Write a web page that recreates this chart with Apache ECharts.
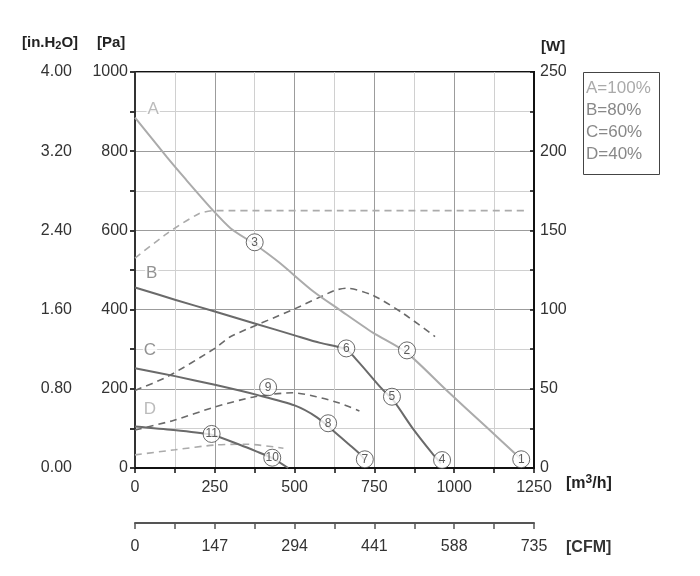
<!DOCTYPE html>
<html>
<head>
<meta charset="utf-8">
<script src="https://cdn.jsdelivr.net/npm/echarts@6/dist/echarts.min.js"></script>
<style>
html,body{margin:0;padding:0;background:#fff;}
#chart{width:700px;height:576px;}
</style>
</head>
<body>
<div id="chart"></div>
<script>
/* 压力曲线 [m3/h, Pa] */
const curveA = [[0,885],[100,785],[160,728],[245,650],[300,605],[375,565],[450,520],[560,445],[640,400],[745,342],[850,292],[975,197],[1100,104],[1210,22]];
const curveB = [[0,456],[125,425],[250,395],[375,365],[500,335],[580,316],[660,300],[700,268],[770,203],[810,170],[870,100],[930,38],[958,12]];
const curveC = [[0,252],[125,232],[250,210],[385,184],[500,158],[570,128],[630,88],[670,60],[705,35],[720,20]];
const curveD = [[0,105],[120,96],[240,84],[330,58],[380,42],[430,25],[480,0]];

/* 功率曲线 [m3/h, W] */
const powerA = [[0,132.5],[100,148],[200,160.5],[250,162.5],[700,162.5],[1230,162.5]];
const powerB = [[0,49],[100,57.5],[250,75.5],[300,83],[495,100],[625,112],[662,113.5],[745,109],[840,97.6],[940,83]];
const powerC = [[0,24],[120,30],[250,38.5],[375,45],[495,47.5],[568,45],[640,41],[703,36]];
const powerD = [[0,8.3],[125,11.5],[250,14.5],[350,15],[465,12.5]];

/* 圆圈编号 [m3/h, Pa, 编号] */
const circleMarks = [[1210,22,'1'],[852,297,'2'],[375,570,'3'],[962,20,'4'],[805,180,'5'],[662,302,'6'],[720,22,'7'],[605,113,'8'],[417,204,'9'],[430,26,'10'],[240,86,'11']];

/* 曲线字母 [m3/h, Pa, 文字] */
const curveLetters = [[57,906,'A'],[52,492,'B'],[47,298,'C'],[47,148,'D']];

/* 图例文字 */
const legendItems = ['A=100%','B=80%','C=60%','D=40%'];

const FONT = 'Liberation Sans, Arial, Helvetica, sans-serif';
const darkLine = '#6a6a6a';
const lightLine = '#ababab';

const chart = echarts.init(document.getElementById('chart'));

function solid(data, color){
    return {
        type:'line', data, xAxisIndex:0, yAxisIndex:0,
        symbol:'none', smooth:0.25,
        lineStyle:{color, width:2}, z:3
    };
}

function dashed(data, color){
    return {
        type:'line', data, xAxisIndex:0, yAxisIndex:2,
        symbol:'none', smooth:0.25,
        lineStyle:{color, width:1.6, type:[7,5]}, z:2
    };
}

const labelStyle = {fontFamily:FONT, fontSize:16, color:'#333'};

chart.setOption({
    animation:false,
    grid:{left:135, right:166, top:72, bottom:108, show:true, borderColor:'#111', borderWidth:2},
    xAxis:[
        {
            type:'value', min:0, max:1250, interval:125, position:'bottom',
            axisLine:{lineStyle:{color:'#111', width:2}},
            axisTick:{show:true, length:5, lineStyle:{color:'#111', width:1.5}},
            axisLabel:Object.assign({margin:12, formatter:v => v % 250 === 0 ? v : ''}, labelStyle),
            splitLine:{show:true, lineStyle:{color:['#9c9c9c','#d0d0d0'], width:1}}
        },
        {
            type:'value', min:0, max:735, interval:73.5, position:'bottom', offset:55,
            axisLine:{onZero:false, lineStyle:{color:'#555', width:2}},
            axisTick:{show:true, length:6, lineStyle:{color:'#555', width:1.5}},
            axisLabel:Object.assign({margin:16, formatter:v => Math.round(v*10) % 1470 === 0 ? Math.round(v) : ''}, labelStyle),
            splitLine:{show:false}
        }
    ],
    yAxis:[
        {
            type:'value', min:0, max:1000, interval:100, position:'left',
            axisLine:{show:true, lineStyle:{color:'#111', width:2}},
            axisTick:{show:true, length:5, lineStyle:{color:'#111', width:1.5}},
            axisLabel:Object.assign({margin:7, formatter:v => v % 200 === 0 ? v : ''}, labelStyle),
            splitLine:{show:true, lineStyle:{color:['#9c9c9c','#d0d0d0'], width:1}}
        },
        {
            type:'value', min:0, max:4, interval:0.4, position:'left', offset:53,
            axisLine:{show:true, lineStyle:{color:'#333', width:2}},
            axisTick:{show:true, length:5, lineStyle:{color:'#333', width:1.5}},
            axisLabel:Object.assign({margin:10, formatter:v => Math.round(v*10) % 8 === 0 ? v.toFixed(2) : ''}, labelStyle),
            splitLine:{show:false}
        },
        {
            type:'value', min:0, max:250, interval:25, position:'right',
            axisLine:{show:true, lineStyle:{color:'#111', width:2}},
            axisTick:{show:true, inside:true, length:4, lineStyle:{color:'#111', width:1.5}},
            axisLabel:Object.assign({margin:6, formatter:v => v % 50 === 0 ? v : ''}, labelStyle),
            splitLine:{show:false}
        }
    ],
    series:[
        dashed(powerA, lightLine),
        dashed(powerB, darkLine),
        dashed(powerC, darkLine),
        dashed(powerD, lightLine),
        solid(curveA, lightLine),
        solid(curveB, darkLine),
        solid(curveC, darkLine),
        solid(curveD, darkLine),
        {
            type:'scatter', data:circleMarks, symbol:'circle', symbolSize:17, z:5,
            itemStyle:{color:'#fff', borderColor:'#444', borderWidth:1},
            label:{show:true, position:'inside', formatter:p => p.data[2],
                fontFamily:FONT, fontSize:12, color:'#333'}
        },
        {
            type:'scatter', symbolSize:1, z:4,
            itemStyle:{color:'rgba(0,0,0,0)'},
            data:curveLetters.map(d => ({
                value:[d[0], d[1], d[2]],
                label:{color: d[2] === 'A' || d[2] === 'D' ? '#aaa' : '#777'}
            })),
            label:{show:true, position:'inside', formatter:p => p.value[2],
                fontFamily:FONT, fontSize:17, backgroundColor:'#fff', padding:[0,1]}
        }
    ],
    graphic:[
        {type:'text', left:22, top:35, style:{
            text:'[in.H{s|2}O]', font:'bold 15px ' + FONT, fill:'#222',
            rich:{s:{font:'bold 11px ' + FONT, fill:'#222', verticalAlign:'bottom', padding:[6,0,0,0]}}
        }},
        {type:'text', left:97, top:35, style:{text:'[Pa]', font:'bold 15px ' + FONT, fill:'#222'}},
        {type:'text', left:541, top:39, style:{text:'[W]', font:'bold 15px ' + FONT, fill:'#222'}},
        {type:'text', left:566, top:474, style:{
            text:'[m{s|3}/h]', font:'bold 16px ' + FONT, fill:'#222',
            rich:{s:{font:'bold 12px ' + FONT, fill:'#222', verticalAlign:'top', padding:[0,0,8,0]}}
        }},
        {type:'text', left:566, top:540, style:{text:'[CFM]', font:'bold 16px ' + FONT, fill:'#333'}},
        {type:'rect', left:583, top:72, shape:{width:76, height:102}, style:{fill:'#fff', stroke:'#444', lineWidth:1}},
        ...legendItems.map((t, i) => ({
            type:'text', left:586, top:80 + i * 22,
            style:{text:t, font:'17px ' + FONT, fill: i === 0 ? '#aaa' : '#888'}
        }))
    ]
});
</script>
</body>
</html>
